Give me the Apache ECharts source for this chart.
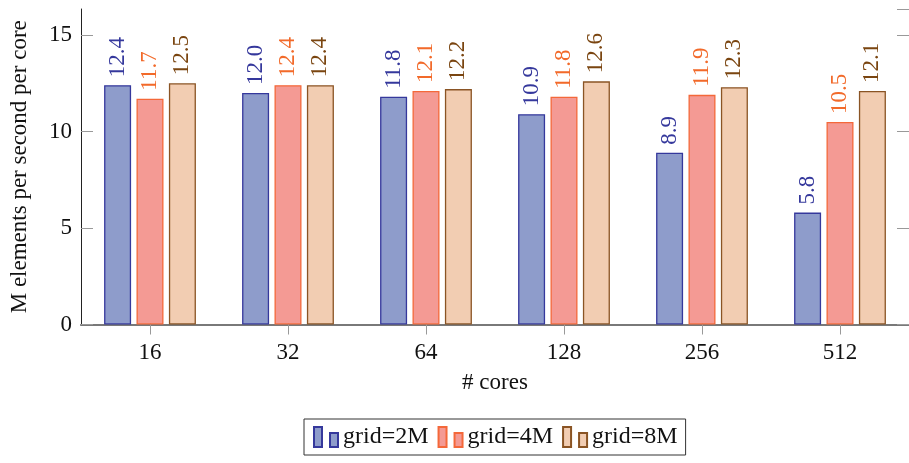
<!DOCTYPE html>
<html><head><meta charset="utf-8">
<script src="https://cdn.jsdelivr.net/npm/echarts@6/dist/echarts.min.js"></script>
<style>html,body{margin:0;padding:0;background:#fff}#c{width:909px;height:463px}</style>
</head><body><div id="c"></div>
<script>
const categories = ['16', '32', '64', '128', '256', '512'];
const grid2M = [12.4, 12.0, 11.8, 10.9, 8.9, 5.8];
const grid4M = [11.7, 12.4, 12.1, 11.8, 11.9, 10.5];
const grid8M = [12.5, 12.4, 12.2, 12.6, 12.3, 12.1];
const seriesNames = ['grid=2M', 'grid=4M', 'grid=8M'];
const yTickValues = [0, 5, 10, 15];

const FONT = 'Liberation Serif';
const styles = [
  { fill: '#8e9ccb', border: '#35389c', label: '#35389c' },
  { fill: '#f49a94', border: '#f4683a', label: '#f26a2a' },
  { fill: '#f2cdb2', border: '#8a5424', label: '#7a4510' }
];
const dataSets = [grid2M, grid4M, grid8M];
const icon = 'path://M0,0h8v20h-8z M16,6h8v14h-8z';

const chart = echarts.init(document.getElementById('c'), null, { renderer: 'canvas' });
chart.setOption({
  animation: false,
  backgroundColor: '#fff',
  textStyle: { fontFamily: FONT },
  grid: { left: 77, top: 9, width: 834, height: 315.5, containLabel: false },
  legend: {
    data: seriesNames,
    left: 304, top: 419,
    padding: [6, 8, 6, 9],
    borderColor: '#333', borderWidth: 1,
    itemWidth: 24, itemHeight: 20, itemGap: 9,
    icon: icon,
    textStyle: { fontFamily: FONT, fontSize: 24, color: '#111' }
  },
  xAxis: [{
    type: 'category', data: categories, position: 'bottom',
    name: '# cores', nameLocation: 'middle', nameGap: 47,
    nameTextStyle: { fontFamily: FONT, fontSize: 23, color: '#111' },
    axisLine: { lineStyle: { color: '#7a7a7a', width: 2 } },
    axisTick: { show: true, alignWithLabel: true, length: 10, lineStyle: { color: '#999', width: 1 } },
    axisLabel: { fontFamily: FONT, fontSize: 23, color: '#111', margin: 17 },
    splitLine: { show: false }
  }, {
    type: 'category', data: categories, position: 'top',
    axisLine: { lineStyle: { color: '#7a7a7a', width: 1.5 } },
    axisTick: { show: true, alignWithLabel: true, length: 9, lineStyle: { color: '#999', width: 1 } },
    axisLabel: { show: false }, splitLine: { show: false }
  }],
  yAxis: [{
    type: 'value', min: 0, max: 16.35, interval: 5, position: 'left',
    name: 'M elements per second per core', nameLocation: 'middle', nameGap: 50,
    nameTextStyle: { fontFamily: FONT, fontSize: 23, color: '#111' },
    axisLine: { show: true, lineStyle: { color: '#222', width: 1 } },
    axisTick: { show: true, inside: true, length: 12, lineStyle: { color: '#999', width: 1 } },
    axisLabel: {
      fontFamily: FONT, fontSize: 23, color: '#111', margin: 9, showMaxLabel: false,
      formatter: v => (yTickValues.indexOf(v) >= 0 ? String(v) : '')
    },
    splitLine: { show: false }
  }, {
    type: 'value', min: 0, max: 16.35, interval: 5, position: 'right',
    axisLine: { show: true, lineStyle: { color: '#222', width: 1 } },
    axisTick: { show: true, inside: true, length: 12, lineStyle: { color: '#999', width: 1 } },
    axisLabel: { show: false }, splitLine: { show: false }
  }],
  series: dataSets.map((d, i) => ({
    name: seriesNames[i], type: 'bar', data: d,
    xAxisIndex: 0, yAxisIndex: 0,
    barWidth: 27, barGap: '20%',
    itemStyle: { color: styles[i].fill, borderColor: styles[i].border, borderWidth: 1.3 },
    label: {
      show: true, position: 'top', rotate: 90, align: 'left', verticalAlign: 'middle',
      distance: 8, fontFamily: FONT, fontSize: 23, color: styles[i].label,
      formatter: p => p.value.toFixed(1)
    }
  }))
});
</script></body></html>
